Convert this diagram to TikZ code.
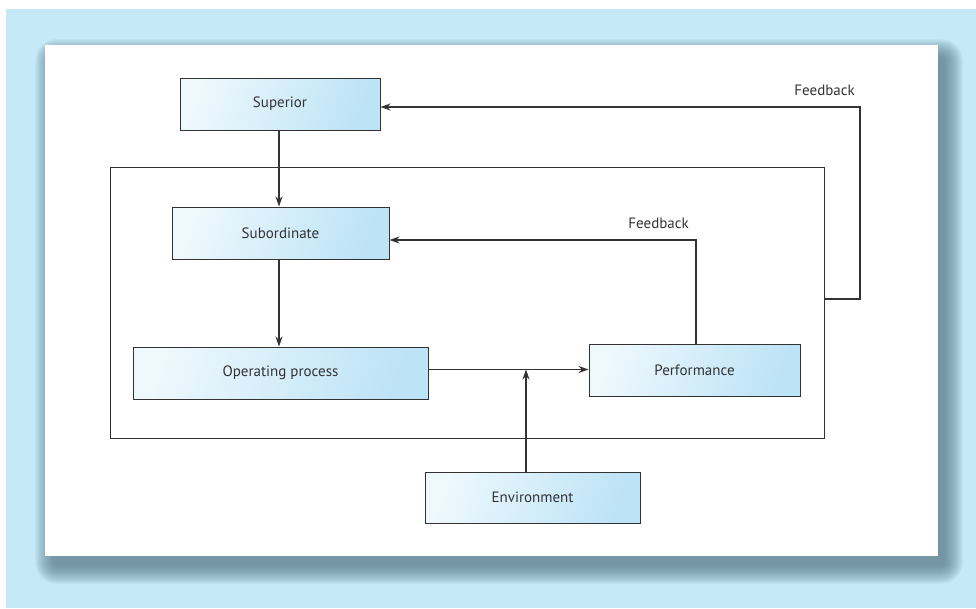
\documentclass[tikz,border=0pt]{standalone}
\usepackage{fontspec}
\setmainfont{PT Sans}
\usetikzlibrary{arrows.meta}

\definecolor{pagebg}{HTML}{C6E9F8}
\definecolor{shadowc}{HTML}{4F6F80}
\definecolor{boxlight}{HTML}{EEF8FD}
\definecolor{boxdark}{HTML}{BCE3F6}
\definecolor{ink}{HTML}{333333}

\tikzset{
  block/.style={draw=ink, line width=1pt, rectangle, minimum height=52pt,
    left color=boxlight, right color=boxdark, shading angle=70,
    text=ink, font=\fontsize{15}{17}\selectfont, inner sep=0pt},
  frame/.style={draw=ink, line width=1pt, rectangle, inner sep=0pt},
  link/.style={draw=ink, line width=1.1pt, -{Stealth[length=10pt,width=7pt]}},
  tag/.style={text=ink, font=\fontsize{15}{17}\selectfont, inner sep=0pt}
}

\begin{document}
\begin{tikzpicture}[x=1pt, y=-1pt]
  \useasboundingbox (0,0) rectangle (976,608);
  % page background
  \fill[white] (0,0) rectangle (976,608);
  \fill[pagebg] (6,9) rectangle (976,608);
  % soft shadow under the white panel, offset towards the lower right
  \foreach \k in {18,17,...,0} {
    \fill[shadowc, fill opacity=0.05, rounded corners={\k pt+4pt}]
      (53-\k,57-\k) rectangle (945+\k,566+\k);
  }
  % white panel
  \fill[white] (45,45) rectangle (938,556);

  % system boundary
  \node[frame, minimum width=714pt, minimum height=271pt] (system) at (467,302.5) {};

  % blocks
  \node[block, minimum width=200pt] (superior) at (280,104) {Superior};
  \node[block, minimum width=217pt] (subordinate) at (280.5,233) {Subordinate};
  \node[block, minimum width=295pt] (operating) at (280.5,373) {Operating process};
  \node[block, minimum width=211pt] (performance) at (694.5,370) {Performance};
  \node[block, minimum width=215pt, minimum height=51pt] (environment) at (532.5,497.5) {Environment};

  % junction where the environment enters the process flow
  \coordinate (junction) at (526,369.5);
  % corner of the outer feedback loop
  \coordinate (outerturn) at (860,299);

  % main flow
  \draw[link] (superior.south -| 279,0) -- (subordinate.north -| 279,0);
  \draw[link] (subordinate.south -| 279,0) -- (operating.north -| 279,0);
  \draw[link] (operating.east |- junction) -- (performance.west |- junction);
  \draw[link] (junction |- environment.north) -- (junction);

  % inner feedback loop
  \draw[link] (performance.north -| 696,0) |- ([yshift=-7pt]subordinate.east);
  \node[tag, anchor=east] (fbinner) at (689,223) {Feedback};

  % outer feedback loop
  \draw[link] (system.east |- outerturn) -- (outerturn) |- ([yshift=-3pt]superior.east);
  \node[tag, anchor=east] (fbouter) at (855,90) {Feedback};
\end{tikzpicture}
\end{document}
